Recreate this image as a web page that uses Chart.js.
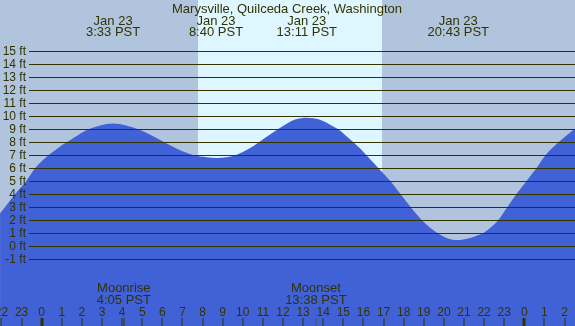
<!DOCTYPE html>
<html>
<head>
<meta charset="utf-8">
<script src="https://cdn.jsdelivr.net/npm/chart.js@4/dist/chart.umd.min.js"></script>
<style>
html,body{margin:0;padding:0;background:#B0C4DE;}
#wrap{width:575px;height:326px;}
</style>
</head>
<body>
<div id="wrap"><canvas id="c" width="575" height="326"></canvas></div>
<script>
// ---- data ----
const titleText = "Marysville, Quilceda Creek, Washington";
const tideHours = [-2.07,-1.83,-1.33,-0.78,-0.33,0.33,0.8,1.24,1.8,2.32,2.9,3.55,4.2,4.9,5.5,6.1,6.8,7.6,8.2,8.7,9.2,9.7,10.3,10.8,11.5,12.1,12.6,13.2,13.8,14.3,14.75,15.1,15.5,15.85,16.15,16.45,16.75,17.05,17.35,17.6,17.85,18.1,18.35,18.85,19.3,19.8,20.2,20.7,21.2,21.6,21.95,22.3,22.7,23.15,23.6,24.1,24.6,25.05,25.7,26.55];
const tideFeet  = [2.54,3.0,4.0,5.0,6.0,7.0,7.55,8.0,8.55,9.0,9.3,9.45,9.3,8.95,8.5,8.0,7.45,7.0,6.85,6.8,6.85,7.05,7.5,8.0,8.75,9.35,9.75,9.9,9.75,9.4,9.0,8.55,8.0,7.5,7.0,6.5,6.0,5.5,5.0,4.5,4.0,3.5,3.0,2.1,1.45,0.9,0.6,0.48,0.6,0.8,1.0,1.4,2.0,3.0,4.0,5.0,6.0,7.0,8.0,9.1];
const extremeHours = [3.55, 8.667, 13.183, 20.717];
const extremeDates = ["Jan 23","Jan 23","Jan 23","Jan 23"];
const extremeTimes = ["3:33 PST","8:40 PST","13:11 PST","20:43 PST"];
const moonHours = [4.083, 13.633];
const moonNames = ["Moonrise","Moonset"];
const moonTimes = ["4:05 PST","13:38 PST"];
const sunriseHour = 7.76;
const sunsetHour = 16.91;
const footTicks = [-1,0,1,2,3,4,5,6,7,8,9,10,11,12,13,14,15];
const footLabels = footTicks.map(v => v + " ft");
const hourTicks = [-2,-1,0,1,2,3,4,5,6,7,8,9,10,11,12,13,14,15,16,17,18,19,20,21,22,23,24,25,26];
const hourLabels = ["22","23","0","1","2","3","4","5","6","7","8","9","10","11","12","13","14","15","16","17","18","19","20","21","22","23","0","1","2"];

const NIGHT = "#B0C4DE", DAY = "#DEF6FF", WATER = "#4161D7", INK = "#333300";
const FONT = "'Liberation Sans', Arial, sans-serif";

const decor = {
  id: 'decor',
  beforeDraw(chart) {
    const {ctx, scales: {x}} = chart;
    ctx.save();
    ctx.fillStyle = NIGHT;
    ctx.fillRect(0, 0, chart.width, chart.height);
    const x1 = Math.round(x.getPixelForValue(sunriseHour));
    const x2 = Math.round(x.getPixelForValue(sunsetHour));
    ctx.fillStyle = DAY;
    ctx.fillRect(x1, 0, x2 - x1, chart.height);
    ctx.restore();
  },
  afterDatasetsDraw(chart) {
    const {ctx, scales: {x, y}} = chart;
    ctx.save();
    ctx.strokeStyle = INK;
    ctx.lineWidth = 1;
    ctx.fillStyle = INK;
    ctx.font = "12px " + FONT;
    ctx.textAlign = "right";
    ctx.textBaseline = "middle";
    footTicks.forEach((v, i) => {
      const py = Math.floor(y.getPixelForValue(v)) + 0.5;
      ctx.beginPath();
      ctx.moveTo(29, py);
      ctx.lineTo(chart.width, py);
      ctx.stroke();
      ctx.fillText(footLabels[i], 26, py + 0.5);
    });
    ctx.font = "13px " + FONT;
    ctx.textAlign = "center";
    ctx.textBaseline = "alphabetic";
    ctx.fillText(titleText, 287, 13);
    extremeHours.forEach((h, i) => {
      const px = x.getPixelForValue(h);
      ctx.fillText(extremeDates[i], px, 25);
      ctx.fillText(extremeTimes[i], px, 36);
    });
    moonHours.forEach((h, i) => {
      const px = x.getPixelForValue(h);
      ctx.fillText(moonNames[i], px, 292);
      ctx.fillText(moonTimes[i], px, 303.5);
    });
    ctx.font = "12px " + FONT;
    hourTicks.forEach((h, i) => {
      const px = x.getPixelForValue(h);
      ctx.fillText(hourLabels[i], px, 315.5);
      const rx = Math.round(px);
      if (hourLabels[i] === "0") {
        ctx.fillRect(rx - 1.5, 318, 3, 8);
      } else {
        ctx.fillRect(rx - 0.5, 318, 1, 8);
      }
    });
    moonHours.forEach((h, i) => {
      const rx = Math.round(x.getPixelForValue(h));
      ctx.fillStyle = i === 0 ? INK : "#555544";
      ctx.fillRect(rx - 0.5, 318, 1, 8);
    });
    ctx.restore();
  }
};

new Chart(document.getElementById('c'), {
  type: 'line',
  data: {
    datasets: [{
      data: tideHours.map((h, i) => ({x: h, y: tideFeet[i]})),
      fill: 'start',
      backgroundColor: WATER,
      borderWidth: 0,
      borderColor: WATER,
      pointRadius: 0,
      cubicInterpolationMode: 'monotone'
    }]
  },
  options: {
    responsive: false,
    animation: false,
    devicePixelRatio: 1,
    layout: {padding: 0},
    plugins: {legend: {display: false}, tooltip: {enabled: false}},
    scales: {
      x: {type: 'linear', min: -2.074, max: 26.52, display: false},
      y: {type: 'linear', min: -6.13, max: 18.95, display: false}
    }
  },
  plugins: [decor]
});
</script>
</body>
</html>
